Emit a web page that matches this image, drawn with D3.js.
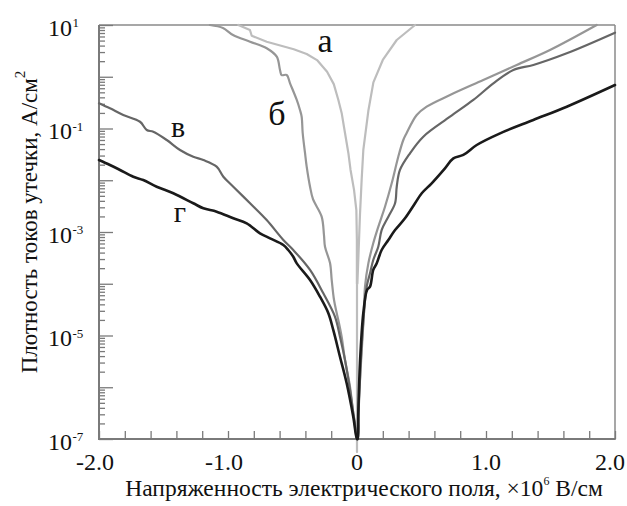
<!DOCTYPE html>
<html><head><meta charset="utf-8">
<script src="https://cdn.jsdelivr.net/npm/d3@7"></script>
<style>body{margin:0;background:#fff}svg{display:block}text{font-family:"Liberation Serif","Times New Roman",serif;fill:#111}</style>
</head><body><svg id="c" width="627" height="506"></svg>
<script>
// ---- data: [field ×10^6 V/cm, leakage current density A/cm²] ----
const curveA = [[-0.92,10],[-0.83,8.0],[-0.816,6.2],[-0.70,4.75],[-0.49,3.4],[-0.39,2.75],[-0.31,2.1],[-0.232,1.25],[-0.18,0.72],[-0.145,0.36],[-0.119,0.2],[-0.093,0.0818],[-0.067,0.0337],[-0.05,0.0158],[-0.023,0.0065],[-0.005,0.00266],[-0.001,7.0e-4],[-0.001,1e-4],[0,1e-4],[0,5.6e-8],[0,1e-4],[0.003,1e-4],[0.023,0.00213],[0.036,0.0101],[0.049,0.0385],[0.088,0.22],[0.127,0.78],[0.2,2.11],[0.308,5.13],[0.45,10]];
const curveB = [[-1.14,10],[-1.039,8.75],[-0.961,6.4],[-0.829,4.75],[-0.70,3.55],[-0.622,2.44],[-0.597,1.35],[-0.584,1.08],[-0.545,1.08],[-0.519,0.746],[-0.467,0.356],[-0.442,0.228],[-0.429,0.169],[-0.421,0.0818],[-0.403,0.0337],[-0.39,0.0183],[-0.364,0.0075],[-0.341,0.0043],[-0.274,0.00198],[-0.256,8.75e-4],[-0.248,5.2e-4],[-0.209,2.52e-4],[-0.196,1.18e-4],[-0.178,4.85e-5],[-0.157,2.69e-5],[-0.145,2.0e-5],[-0.119,9.5e-6],[-0.093,3.37e-6],[-0.054,1.02e-6],[-0.029,3.18e-7],[-0.002,1.31e-7],[0,1e-7],[0.004,1e-7],[0.010,3.18e-7],[0.031,2.94e-6],[0.054,2.72e-5],[0.062,8.77e-5],[0.088,2.48e-4],[0.126,6.05e-4],[0.165,1.26e-3],[0.217,3.08e-3],[0.269,8.73e-3],[0.32,0.0285],[0.359,0.06],[0.385,0.0818],[0.463,0.182],[0.54,0.264],[0.721,0.444],[0.979,0.865],[1.238,1.69],[1.496,3.29],[1.858,10]];
const curveV = [[-2.0,0.307],[-1.915,0.245],[-1.812,0.182],[-1.682,0.135],[-1.63,0.0935],[-1.579,0.0867],[-1.475,0.06],[-1.372,0.0385],[-1.269,0.0285],[-1.191,0.0246],[-1.088,0.0183],[-1.036,0.0117],[-0.959,0.0075],[-0.829,0.00359],[-0.70,0.0017],[-0.571,7.0e-4],[-0.494,4.49e-4],[-0.364,1.85e-4],[-0.261,6.53e-5],[-0.171,2.31e-5],[-0.132,9.5e-6],[-0.093,3.37e-6],[-0.054,8.85e-7],[-0.016,1.87e-7],[0,1e-7],[0.005,1e-7],[0.012,3.18e-7],[0.039,8.2e-6],[0.075,8.77e-5],[0.101,1.59e-4],[0.126,2.88e-4],[0.165,5.2e-4],[0.191,1.09e-3],[0.243,1.98e-3],[0.295,3.59e-3],[0.308,7.5e-3],[0.333,0.0158],[0.411,0.0332],[0.514,0.0695],[0.721,0.169],[0.902,0.356],[1.057,0.746],[1.212,1.35],[1.367,1.69],[1.626,2.84],[2.0,7.1]];
const curveG = [[-2.0,0.0246],[-1.915,0.0197],[-1.837,0.0158],[-1.734,0.0117],[-1.657,0.0101],[-1.553,0.0075],[-1.424,0.0056],[-1.269,0.00359],[-1.191,0.00287],[-1.088,0.00247],[-0.959,0.00184],[-0.855,0.00147],[-0.752,9.44e-4],[-0.674,7.55e-4],[-0.571,5.61e-4],[-0.533,4.49e-4],[-0.494,3.33e-4],[-0.467,2.48e-4],[-0.364,1.18e-4],[-0.287,5.62e-5],[-0.222,2.69e-5],[-0.184,1.28e-5],[-0.132,3.89e-6],[-0.08,1.19e-6],[-0.029,2.7e-7],[0,1e-7],[0.005,1e-7],[0.010,3.18e-7],[0.023,2.94e-6],[0.049,2.72e-5],[0.078,7.57e-5],[0.101,8.77e-5],[0.126,1.85e-4],[0.153,2.48e-4],[0.191,4.49e-4],[0.243,7.0e-4],[0.295,1.09e-3],[0.372,1.84e-3],[0.45,3.59e-3],[0.502,5.6e-3],[0.579,8.73e-3],[0.682,0.017],[0.747,0.0265],[0.824,0.0308],[0.928,0.048],[1.109,0.0807],[1.367,0.146],[1.626,0.264],[2.0,0.693]];
const xTickLabels = ["-2.0","-1.0","0","1.0","2.0"];
const xTickLabelValues = [-2,-1,0,1,2];
const yLabelExponents = [1,-1,-3,-5,-7];
const curveNames = ["а","б","в","г"];

const svg = d3.select("#c");
const L = 99, R = 615, T = 25, B = 439;
const x = d3.scaleLinear().domain([-2,2]).range([L,R]);
const y = d3.scaleLog().domain([1e-7,10]).range([B,T]);

// frame
const axisCol = "#7a7a7a";
svg.append("line").attr("x1",L).attr("x2",R).attr("y1",T).attr("y2",T).attr("stroke","#8a8a8a").attr("stroke-width",1.5);
svg.append("line").attr("x1",R).attr("x2",R).attr("y1",T).attr("y2",B).attr("stroke","#8a8a8a").attr("stroke-width",1.5);

// y ticks
const majors = d3.range(-7,2).map(e => Math.pow(10,e));
const minors = [];
for (let e=-7;e<1;e++) for (let k=2;k<10;k++) minors.push(k*Math.pow(10,e));
const gy = svg.append("g").attr("transform",`translate(${L},0)`);
gy.call(d3.axisRight(y).tickValues(minors).tickSize(6).tickSizeOuter(0).tickFormat(""));
gy.call(g=>g.select(".domain").remove());
const gy2 = svg.append("g").attr("transform",`translate(${L},0)`);
gy2.call(d3.axisRight(y).tickValues(majors).tickSize(14).tickSizeOuter(0).tickFormat(""));
gy2.call(g=>g.select(".domain").remove());
svg.selectAll(".tick line").attr("stroke",axisCol).attr("stroke-width",1.3);

// x ticks
const gx = svg.append("g").attr("transform",`translate(0,${B})`);
gx.call(d3.axisTop(x).tickValues(d3.range(-10,11).map(i=>i*0.2)).tickSize(8).tickSizeOuter(0).tickFormat(""));
gx.select(".domain").remove();
gx.selectAll(".tick line").attr("stroke",axisCol).attr("stroke-width",1.3);

// axis lines
svg.append("line").attr("x1",L).attr("x2",L).attr("y1",T).attr("y2",B+1).attr("stroke",axisCol).attr("stroke-width",2);
svg.append("line").attr("x1",L-1).attr("x2",R+0.75).attr("y1",B).attr("y2",B).attr("stroke",axisCol).attr("stroke-width",2);

// curves
const lineLin = d3.line().x(d=>x(d[0])).y(d=>y(d[1]));
const lineSm = d3.line().x(d=>x(d[0])).y(d=>y(d[1])).curve(d3.curveCatmullRom.alpha(0.5));
const series = [
  {d:curveA, c:"#bdbdbd", w:2.2, f:lineLin},
  {d:curveB, c:"#969696", w:2.2, f:lineSm},
  {d:curveV, c:"#666666", w:2.2, f:lineSm},
  {d:curveG, c:"#1a1a1a", w:2.6, f:lineSm}
];
series.forEach(s => svg.append("path").attr("d",s.f(s.d)).attr("fill","none")
  .attr("stroke",s.c).attr("stroke-width",s.w).attr("stroke-linejoin","round").attr("stroke-linecap","round"));

// curve labels
const labPos = [[325,52,34],[277,125,34],[178,137,30],[180,222,30]];
curveNames.forEach((n,i)=>svg.append("text").attr("x",labPos[i][0]).attr("y",labPos[i][1])
  .attr("text-anchor","middle").attr("font-size",labPos[i][2]).text(n));

// y tick labels
yLabelExponents.forEach(e=>{
  const yy = y(Math.pow(10,e));
  svg.append("text").attr("x",72).attr("y",yy+10.5).attr("text-anchor","end").attr("font-size",24).text("10");
  svg.append("text").attr("x",72.5).attr("y",yy+2).attr("text-anchor","start").attr("font-size",13).text(e<0? "-"+(-e) : String(e));
});

// x tick labels
xTickLabelValues.forEach((v,i)=>{
  const lab = xTickLabels[i];
  let dx = lab.startsWith("-") ? -4 : 0;
  if (v===2) dx = -5;
  svg.append("text").attr("x",x(v)+dx).attr("y",470).attr("text-anchor","middle").attr("font-size",24).text(lab);
});

// axis titles
const xt = svg.append("text").attr("x",364).attr("y",496).attr("text-anchor","middle").attr("font-size",23.5);
xt.append("tspan").text("Напряженность электрического поля, ×10");
xt.append("tspan").attr("font-size",12).attr("dy",-11).text("6");
xt.append("tspan").attr("dy",11).text(" В/см");

const yt = svg.append("text").attr("transform","translate(37,222) rotate(-90)").attr("text-anchor","middle").attr("font-size",23);
yt.append("tspan").text("Плотность токов утечки, А/см");
yt.append("tspan").attr("font-size",15).attr("dy",-12).text("2");
</script></body></html>
